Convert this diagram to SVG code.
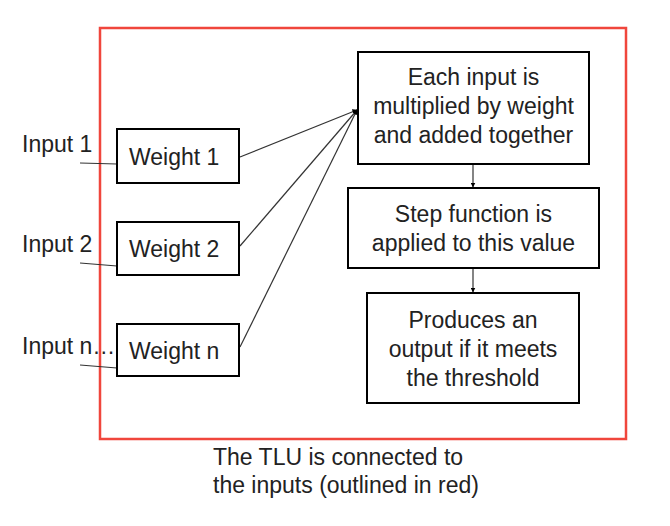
<svg xmlns="http://www.w3.org/2000/svg" width="670" height="526" viewBox="0 0 670 526">
<defs>
<style>
.box{fill:#fff;stroke:#000;stroke-width:2}
.t{font-family:"Liberation Sans",Arial,sans-serif;font-size:23px;fill:#222}
.c{stroke:#333;stroke-width:1.2;fill:none}
</style>
<marker id="ah" viewBox="0 0 10 10" refX="9" refY="5" markerWidth="5" markerHeight="5" orient="auto" markerUnits="userSpaceOnUse">
<path d="M0,0 L10,5 L0,10 z" fill="#000"/>
</marker>
</defs>
<rect width="670" height="526" fill="#fff"/>
<rect id="tlu" x="100" y="28" width="526" height="411" fill="none" stroke="#f0463c" stroke-width="2.5"/>
<g id="connectors">
<path class="c" d="M80,163 L117,164"/>
<path class="c" d="M80,263 L117,266"/>
<path class="c" d="M80,365 L117,368"/>
<path class="c" d="M240,157 L357,110" marker-end="url(#ah)"/>
<path class="c" d="M240,246 L357,110" marker-end="url(#ah)"/>
<path class="c" d="M240,347 L357,110" marker-end="url(#ah)"/>
<path class="c" d="M473,164 L473,187" marker-end="url(#ah)"/>
<path class="c" d="M473,268 L473,292" marker-end="url(#ah)"/>
</g>
<g id="input1"><text class="t" x="22" y="152">Input 1</text></g>
<g id="input2"><text class="t" x="22" y="252">Input 2</text></g>
<g id="inputn"><text class="t" x="22" y="354">Input n…</text></g>
<g id="weight1"><rect class="box" x="117" y="129" width="122" height="54"/><text class="t" x="129" y="165">Weight 1</text></g>
<g id="weight2"><rect class="box" x="117" y="222" width="122" height="53"/><text class="t" x="129" y="257">Weight 2</text></g>
<g id="weightn"><rect class="box" x="117" y="324" width="122" height="52"/><text class="t" x="129" y="359">Weight n</text></g>
<g id="sum"><rect class="box" x="358" y="52" width="231" height="112"/>
<text class="t" text-anchor="middle" x="473.5" y="85">Each input is</text>
<text class="t" text-anchor="middle" x="473.5" y="114">multiplied by weight</text>
<text class="t" text-anchor="middle" x="473.5" y="143">and added together</text></g>
<g id="step"><rect class="box" x="348" y="188" width="251" height="80"/>
<text class="t" text-anchor="middle" x="473.5" y="222">Step function is</text>
<text class="t" text-anchor="middle" x="473.5" y="251">applied to this value</text></g>
<g id="output"><rect class="box" x="367" y="293" width="212" height="110"/>
<text class="t" text-anchor="middle" x="473" y="328">Produces an</text>
<text class="t" text-anchor="middle" x="473" y="357">output if it meets</text>
<text class="t" text-anchor="middle" x="473" y="386">the threshold</text></g>
<g id="caption">
<text class="t" x="213" y="465">The TLU is connected to</text>
<text class="t" x="213" y="493">the inputs (outlined in red)</text></g>
</svg>
